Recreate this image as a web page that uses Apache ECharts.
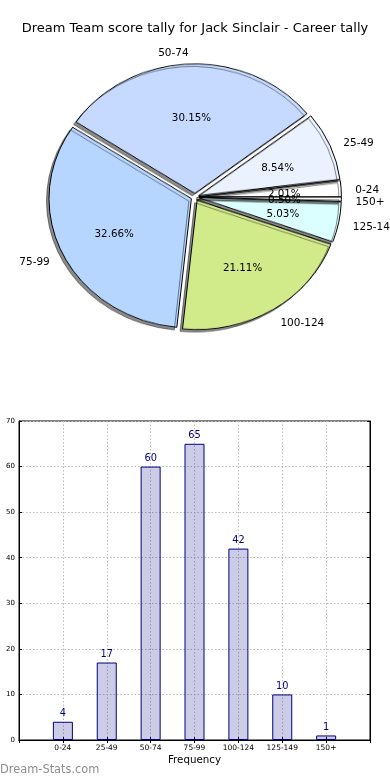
<!DOCTYPE html>
<html><head><meta charset="utf-8">
<script src="https://cdn.jsdelivr.net/npm/echarts@6/dist/echarts.min.js"></script>
<style>
html,body{margin:0;padding:0;background:#fff;}
#pie{position:absolute;left:0;top:0;width:390px;height:394px;transform:scaleY(0.909);transform-origin:195px 197px;z-index:1;}
#main{position:absolute;left:0;top:0;width:390px;height:780px;z-index:2;}
</style></head><body>
<div id="pie"></div><div id="main"></div>
<script>
// ---- data ----
const chartTitle = 'Dream Team score tally for Jack Sinclair - Career tally';
const categories = ['0-24', '25-49', '50-74', '75-99', '100-124', '125-149', '150+'];
const frequency = [4, 17, 60, 65, 42, 10, 1];
const sliceColors = ['#ffffff', '#ebf2ff', '#c6d9ff', '#b7d6ff', '#d1ea8a', '#dbffff', '#ffffff'];
const yMin = 0, yMax = 70, yStep = 10;
const xAxisName = 'Frequency';
const watermark = 'Dream-Stats.com';

// ---- layout constants ----
const CX = 195, CY = 197, R = 142.4, SY = 0.909, EXPLODE = 4, TEXT_DY = 2.5;
const FONT = 'DejaVu Sans';

function pieData(withColor) {
  return categories.map((c, i) => ({
    name: c, value: frequency[i], selected: true,
    itemStyle: withColor ? { color: sliceColors[i] } : { color: 'rgba(0,0,0,0)' }
  }));
}

// ---- sectors (ellipse via css scaleY) ----
const pieChart = echarts.init(document.getElementById('pie'), null, { renderer: 'canvas' });
pieChart.setOption({
  animation: false,
  series: [{
    type: 'pie', center: [CX, CY], radius: [0, R],
    startAngle: 0, clockwise: false,
    selectedMode: 'multiple', selectedOffset: EXPLODE,
    silent: true,
    label: { show: false }, labelLine: { show: false },
    itemStyle: {
      borderColor: '#000', borderWidth: 1,
      shadowColor: 'rgba(0,0,0,0.45)', shadowBlur: 0, shadowOffsetX: -2.5, shadowOffsetY: 2.8
    },
    select: { itemStyle: { borderColor: '#000', borderWidth: 1 } },
    emphasis: { disabled: true },
    data: pieData(true)
  }]
});

// ---- label placement on the elliptical pie (matplotlib style: 1.1r names, 0.6r percents) ----
const total = frequency.reduce((a, b) => a + b, 0);
const midAngles = [];
(function () { let acc = 0; frequency.forEach(v => { midAngles.push((acc + v / 2) / total * 2 * Math.PI); acc += v; }); })();
function place(frac, outer) {
  return function (p) {
    const t = midAngles[p.dataIndex];
    const c = Math.cos(t), s = Math.sin(t);
    const d = frac * R + EXPLODE;
    return {
      x: CX + d * c, y: CY - d * s * SY + TEXT_DY,
      align: outer ? (c >= 0 ? 'left' : 'right') : 'center',
      verticalAlign: 'middle'
    };
  };
}
const padCats = [''].concat(categories, [' ']);
const barVals = ['-'].concat(frequency, ['-']);

const main = echarts.init(document.getElementById('main'), null, { renderer: 'canvas' });
main.setOption({
  animation: false,
  textStyle: { fontFamily: FONT },
  title: [
    { text: chartTitle, left: 'center', top: 22, padding: 0,
      textStyle: { fontSize: 13, fontWeight: 'normal', color: '#000', fontFamily: FONT } },
    { text: watermark, left: 0, top: 765, padding: 0,
      textStyle: { fontSize: 11.4, fontWeight: 'normal', color: '#8e8e8e', fontFamily: FONT } }
  ],
  grid: { left: 19, right: 20, top: 421, bottom: 40, show: true, borderColor: '#000', borderWidth: 1, backgroundColor: 'rgba(0,0,0,0)' },
  xAxis: [
    { type: 'category', data: padCats, boundaryGap: false, position: 'bottom',
      axisLine: { lineStyle: { color: '#000', width: 1 } },
      axisTick: { show: true, inside: true, length: 3, interval: 0, lineStyle: { color: '#000' } },
      axisLabel: { fontSize: 7.5, color: '#000', margin: 4, interval: 0, fontFamily: FONT },
      splitLine: { show: true, interval: 0, lineStyle: { type: [1.5, 2], color: '#bdbdbd', width: 1 } },
      name: xAxisName, nameLocation: 'middle', nameGap: 15,
      nameTextStyle: { fontSize: 10.3, color: '#000', fontFamily: FONT } },
    { type: 'category', data: padCats, boundaryGap: false, position: 'top',
      axisLine: { lineStyle: { color: '#000', width: 1 } },
      axisTick: { show: true, inside: true, length: 3, interval: 0, lineStyle: { color: '#000' } },
      axisLabel: { show: false }, splitLine: { show: false } }
  ],
  yAxis: [
    { type: 'value', min: yMin, max: yMax, interval: yStep, position: 'left',
      axisLine: { show: true, lineStyle: { color: '#000', width: 1 } },
      axisTick: { show: true, inside: true, length: 3, lineStyle: { color: '#000' } },
      axisLabel: { fontSize: 7, color: '#000', margin: 4, fontFamily: FONT },
      splitLine: { show: true, lineStyle: { type: [1.5, 2], color: '#bdbdbd', width: 1 } } },
    { type: 'value', min: yMin, max: yMax, interval: yStep, position: 'right',
      axisLine: { show: true, lineStyle: { color: '#000', width: 1 } },
      axisTick: { show: true, inside: true, length: 3, lineStyle: { color: '#000' } },
      axisLabel: { show: false }, splitLine: { show: false } }
  ],
  series: [
    { type: 'bar', xAxisIndex: 0, yAxisIndex: 0, data: barVals, barWidth: 20,
      silent: true,
      itemStyle: { color: 'rgba(0,0,128,0.2)', borderColor: '#000080', borderWidth: 1 },
      label: { show: true, position: 'top', distance: 3, color: '#000080', fontSize: 9.8, fontFamily: FONT } },
    { type: 'pie', center: [CX, CY], radius: [0, R], startAngle: 0, clockwise: false,
      silent: true, avoidLabelOverlap: false,
      itemStyle: { color: 'rgba(0,0,0,0)', borderWidth: 0 },
      label: { show: true, position: 'outside', formatter: '{b}', fontSize: 10.5, color: '#000',
               distanceToLabelLine: 0, fontFamily: FONT },
      labelLine: { show: false, length: R * 0.1, length2: 0 },
      labelLayout: place(1.1, true), emphasis: { disabled: true },
      data: pieData(false) },
    { type: 'pie', center: [CX, CY], radius: [0, R], startAngle: 0, clockwise: false,
      silent: true, avoidLabelOverlap: false,
      itemStyle: { color: 'rgba(0,0,0,0)', borderWidth: 0 },
      label: { show: true, position: 'inside', fontSize: 10.3, color: '#000', fontFamily: FONT,
               formatter: p => p.percent.toFixed(2) + '%' },
      labelLine: { show: false },
      labelLayout: place(0.6, false), emphasis: { disabled: true },
      data: pieData(false) }
  ]
});
</script>
</body></html>
